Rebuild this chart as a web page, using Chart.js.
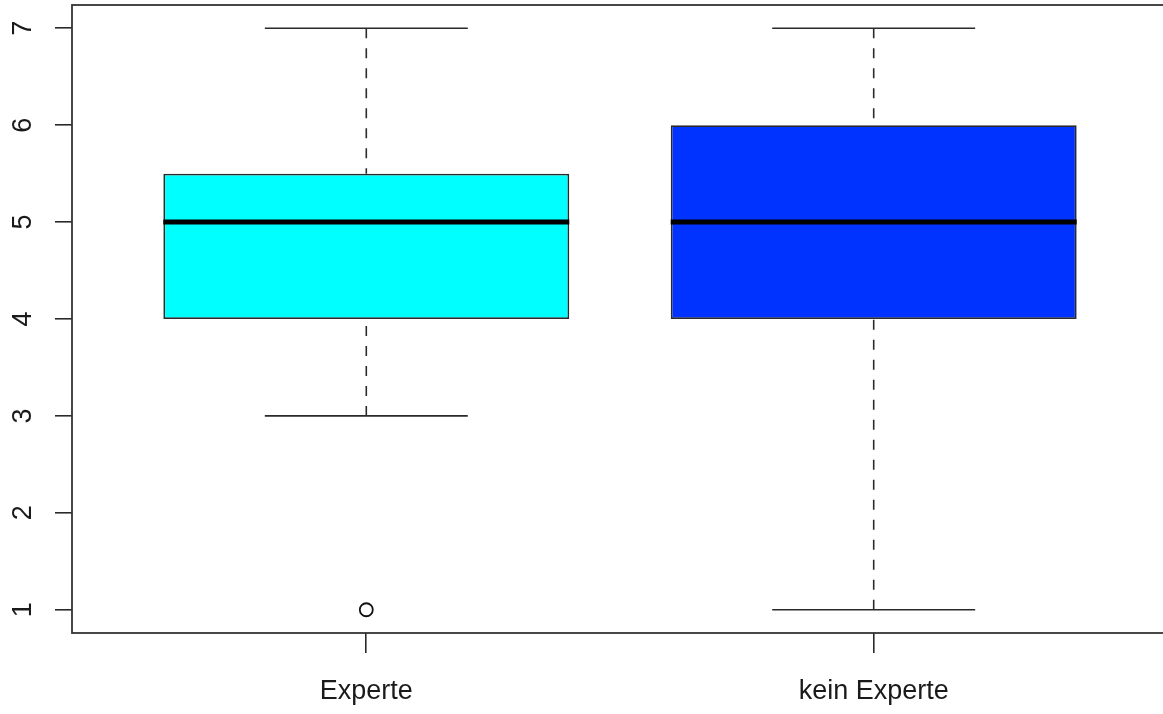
<!DOCTYPE html>
<html>
<head>
<meta charset="utf-8">
<script src="https://cdn.jsdelivr.net/npm/chart.js@4.4.1/dist/chart.umd.min.js"></script>
<style>
  html, body { margin: 0; padding: 0; background: #ffffff; overflow: hidden; }
  #wrap { position: absolute; left: 0; top: 0; width: 1168px; height: 714px; }
</style>
</head>
<body>
<div id="wrap"><canvas id="c"></canvas></div>
<script>
// ---- data ----
const categories   = ['Experte', 'kein Experte'];
const lowerWhisker = [3, 1];
const q1           = [4, 4];
const median       = [5, 5];
const q3           = [5.5, 6];
const upperWhisker = [7, 7];
const outliers     = [[1], []];
const boxColors    = ['#00FFFF', '#0033FF'];
const yTicks       = [1, 2, 3, 4, 5, 6, 7];

// ---- styling ----
const BOX_HALF = 0.4;   // box half width in category units
const CAP_HALF = 0.2;   // whisker cap half width
const LINE_COL = '#2a2a2a';
const FONT = { family: 'Liberation Sans, Arial, sans-serif', size: 27 };

const datasets = [];

// boxes (floating bars from Q1 to Q3)
datasets.push({
  type: 'bar',
  data: categories.map((c, i) => ({ x: i + 1, y: [q1[i], q3[i]] })),
  backgroundColor: boxColors,
  borderColor: LINE_COL,
  borderWidth: 1.8,
  borderSkipped: false,
  categoryPercentage: 1,
  barPercentage: 2 * BOX_HALF,
  order: 3
});

// whiskers (dashed), one dataset each so the dash begins at the whisker end
categories.forEach((c, i) => {
  [[upperWhisker[i], q3[i]], [lowerWhisker[i], q1[i]]].forEach(([from, to]) => {
    datasets.push({
      type: 'line',
      data: [{ x: i + 1, y: from }, { x: i + 1, y: to }],
      borderColor: LINE_COL,
      borderWidth: 1.6,
      borderDash: [10, 10],
      pointRadius: 0,
      fill: false,
      order: 2
    });
  });
});

// whisker caps
const capData = [];
categories.forEach((c, i) => {
  [lowerWhisker[i], upperWhisker[i]].forEach(v => {
    capData.push({ x: i + 1 - CAP_HALF, y: v }, { x: i + 1 + CAP_HALF, y: v }, { x: i + 1, y: null });
  });
});
datasets.push({
  type: 'line', data: capData, spanGaps: false,
  borderColor: LINE_COL, borderWidth: 1.6, pointRadius: 0, fill: false, order: 2
});

// medians
const medData = [];
categories.forEach((c, i) => {
  medData.push({ x: i + 1 - BOX_HALF, y: median[i] }, { x: i + 1 + BOX_HALF, y: median[i] }, { x: i + 1.5, y: null });
});
datasets.push({
  type: 'line', data: medData, spanGaps: false,
  borderColor: '#000000', borderWidth: 5, borderCapStyle: 'butt', pointRadius: 0, fill: false, order: 1
});

// outliers
const outData = [];
categories.forEach((c, i) => outliers[i].forEach(v => outData.push({ x: i + 1, y: v })));
datasets.push({
  type: 'scatter', data: outData,
  pointStyle: 'circle', pointRadius: 6.5, pointBorderWidth: 1.8,
  pointBackgroundColor: 'rgba(0,0,0,0)', pointBorderColor: '#111111',
  borderColor: '#111111', backgroundColor: 'rgba(0,0,0,0)', order: 0
});

const framePlugin = {
  id: 'frame',
  afterDraw(chart) {
    const a = chart.chartArea, ctx = chart.ctx;
    ctx.save();
    ctx.strokeStyle = '#333333';
    ctx.lineWidth = 1.8;
    ctx.strokeRect(a.left, a.top, a.right - a.left, a.bottom - a.top);
    ctx.restore();
  }
};

new Chart(document.getElementById('c'), {
  type: 'bar',
  data: { datasets },
  plugins: [framePlugin],
  options: {
    responsive: true,
    maintainAspectRatio: false,
    animation: false,
    events: [],
    layout: { autoPadding: false, padding: { top: 5, left: 0, right: 0, bottom: 0 } },
    plugins: { legend: { display: false }, tooltip: { enabled: false } },
    scales: {
      x: {
        type: 'linear',
        min: 0.42, max: 2.58,
        offset: false,
        afterBuildTicks: s => { s.ticks = categories.map((c, i) => ({ value: i + 1 })); },
        afterFit: s => { s.height = 81; s.paddingLeft = 0; s.paddingRight = 0; },
        grid: { offset: false, drawOnChartArea: false, drawTicks: true, tickLength: 20, color: LINE_COL, lineWidth: 1.6 },
        border: { display: false },
        ticks: {
          callback: v => categories[Math.round(v) - 1],
          font: FONT, color: '#1a1a1a', padding: 22, maxRotation: 0, minRotation: 0
        }
      },
      y: {
        type: 'linear',
        min: 0.76, max: 7.24,
        afterBuildTicks: s => { s.ticks = yTicks.map(v => ({ value: v })); },
        afterFit: s => { s.width = 72; s.paddingTop = 0; s.paddingBottom = 0; },
        grid: { drawOnChartArea: false, drawTicks: true, tickLength: 17, color: LINE_COL, lineWidth: 1.6 },
        border: { display: false },
        ticks: {
          font: FONT, color: '#1a1a1a', padding: 24,
          minRotation: 90, maxRotation: 90, crossAlign: 'center'
        }
      }
    }
  }
});
</script>
</body>
</html>
